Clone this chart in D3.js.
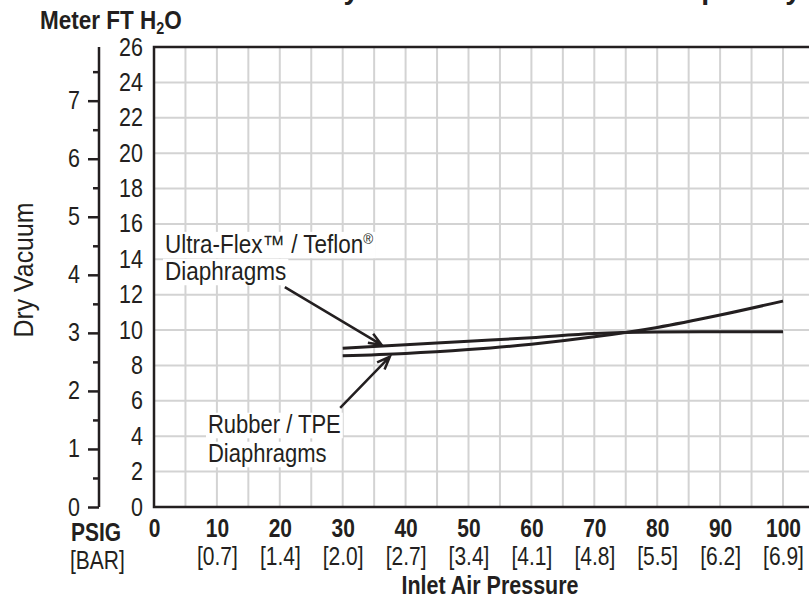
<!DOCTYPE html>
<html>
<head>
<meta charset="utf-8">
<script src="https://cdn.jsdelivr.net/npm/d3@7"></script>
<style>
  html, body { margin: 0; padding: 0; background: #fff; }
  svg { display: block; }
  text { font-family: "Liberation Sans", Arial, sans-serif; fill: #231f20; }
</style>
</head>
<body>
<svg id="chart" width="809" height="616"></svg>
<script>
// ---- data ----
const psi = [30, 40, 50, 60, 70, 80, 90, 100];
const ultraFlex = [8.97, 9.17, 9.37, 9.57, 9.80, 9.89, 9.91, 9.91];
const rubberTPE = [8.55, 8.68, 8.90, 9.20, 9.62, 10.15, 10.85, 11.64];
const psiTicks = [0, 10, 20, 30, 40, 50, 60, 70, 80, 90, 100];
const barLabels = ["", "[0.7]", "[1.4]", "[2.0]", "[2.7]", "[3.4]", "[4.1]", "[4.8]", "[5.5]", "[6.2]", "[6.9]"];
const ftTicks = [0, 2, 4, 6, 8, 10, 12, 14, 16, 18, 20, 22, 24, 26];
const meterTicks = [0, 1, 2, 3, 4, 5, 6, 7];
const meterMinorTicks = [0.5, 1.5, 2.5, 3.5, 4.5, 5.5, 6.5, 7.5];

const ink = "#231f20";
const K = 0.86; // horizontal condensing (Helvetica Condensed look)
const svg = d3.select("#chart");

function cond(sel, k) {
  k = k || K;
  sel.each(function () {
    const t = d3.select(this);
    const x0 = +t.attr("x") || 0;
    t.attr("x", x0 / k).attr("transform", `scale(${k},1)`);
  });
  return sel;
}

const x = d3.scaleLinear().domain([0, 100]).range([154, 783]);
const y = d3.scaleLinear().domain([0, 26]).range([507, 47]);
const yM = d3.scaleLinear().domain([0, 26 / 3.28084]).range([507, 47]);

// title (cropped at top, as in the reference)
cond(svg.append("text").attr("x", 801).attr("y", -1).attr("text-anchor", "end")
  .style("font-weight", "bold").style("font-size", "30px")
  .text("Maximum Dry Vacuum / Suction Lift Capability"), 0.95);

// grid
const g = svg.append("g");
g.selectAll(".vg").data(d3.range(5, 110, 5)).join("line")
  .attr("x1", d => x(d)).attr("x2", d => x(d)).attr("y1", y(26)).attr("y2", y(0))
  .attr("stroke", "#d3d3d3").attr("stroke-width", 2);
g.selectAll(".hg").data(d3.range(2, 26, 2)).join("line")
  .attr("x1", x(0)).attr("x2", 809).attr("y1", d => y(d)).attr("y2", d => y(d))
  .attr("stroke", "#d3d3d3").attr("stroke-width", 2);

// frame
svg.append("path")
  .attr("d", `M809,${y(26)}H${x(0)}V${y(0)}H809`)
  .attr("fill", "none").attr("stroke", ink).attr("stroke-width", 2.5);

// ft axis labels
const ftAxis = svg.append("g").attr("transform", `translate(${x(0)},0)`)
  .call(d3.axisLeft(y).tickValues(ftTicks).tickSize(0).tickPadding(11));
ftAxis.select(".domain").remove();
ftAxis.selectAll("text").style("font-size", "25px").attr("fill", ink).style("font-family", null);
cond(ftAxis.selectAll("text"));

// meter axis
const mAxis = svg.append("g").attr("transform", "translate(99,0)")
  .call(d3.axisLeft(yM).tickValues(meterTicks).tickSize(11).tickPadding(8));
mAxis.select(".domain").attr("d", `M0,${y(26)}V${y(0)}`).attr("stroke", ink).attr("stroke-width", 2.5);
mAxis.selectAll(".tick line").attr("stroke", ink).attr("stroke-width", 2.5);
mAxis.selectAll("text").style("font-size", "25px").attr("fill", ink);
cond(mAxis.selectAll("text"));
const mMinor = svg.append("g").attr("transform", "translate(99,0)")
  .call(d3.axisLeft(yM).tickValues(meterMinorTicks).tickSize(6).tickFormat(""));
mMinor.select(".domain").remove();
mMinor.selectAll(".tick line").attr("stroke", ink).attr("stroke-width", 2.5);

// x axis labels
const xAxis = svg.append("g").attr("transform", `translate(0,${y(0)})`)
  .call(d3.axisBottom(x).tickValues(psiTicks).tickSize(0).tickPadding(12));
xAxis.select(".domain").remove();
xAxis.selectAll("text").style("font-size", "25px").style("font-weight", "bold").attr("fill", ink);
cond(xAxis.selectAll("text"), 0.84);
const barAxis = svg.append("g").attr("transform", `translate(0,${y(0)})`)
  .call(d3.axisBottom(x).tickValues(psiTicks).tickSize(0).tickPadding(40)
    .tickFormat((d, i) => barLabels[i]));
barAxis.select(".domain").remove();
barAxis.selectAll("text").style("font-size", "25px").attr("fill", ink);
cond(barAxis.selectAll("text"), 0.84);

cond(svg.append("text").attr("x", 71).attr("y", 541).style("font-size", "25px").style("font-weight", "bold").text("PSIG"), 0.84);
cond(svg.append("text").attr("x", 70).attr("y", 569).style("font-size", "25px").text("[BAR]"), 0.84);
cond(svg.append("text").attr("x", 490).attr("y", 594).attr("text-anchor", "middle")
  .style("font-size", "25px").style("font-weight", "bold").text("Inlet Air Pressure"), 0.86);

// axis titles
const yt = svg.append("text").attr("x", 40).attr("y", 29).style("font-size", "25px").style("font-weight", "bold");
yt.append("tspan").text("Meter FT H");
yt.append("tspan").attr("dy", 5).style("font-size", "16px").text("2");
yt.append("tspan").attr("dy", -5).text("O");
cond(yt, 0.9);
svg.append("text").attr("transform", "translate(33,270) rotate(-90) scale(0.92,1)").attr("text-anchor", "middle")
  .style("font-size", "27px").text("Dry Vacuum");

// curves
const line = d3.line().x(d => x(d[0])).y(d => y(d[1])).curve(d3.curveMonotoneX);
svg.append("path").datum(psi.map((p, i) => [p, ultraFlex[i]])).attr("d", line)
  .attr("fill", "none").attr("stroke", ink).attr("stroke-width", 3);
svg.append("path").datum(psi.map((p, i) => [p, rubberTPE[i]])).attr("d", line)
  .attr("fill", "none").attr("stroke", ink).attr("stroke-width", 3);

// annotations
function label(lines, lx, ly, lh, k) {
  const grp = svg.append("g");
  lines.forEach((t, i) => {
    const tx = grp.append("text").attr("x", lx).attr("y", ly + i * lh).style("font-size", "25px");
    if (t.sup) {
      tx.append("tspan").text(t.text);
      tx.append("tspan").attr("dy", -9).style("font-size", "15px").text(t.sup);
    } else tx.text(t.text);
    cond(tx, k);
    const bb = tx.node().getBBox();
    grp.insert("rect", "text").attr("x", bb.x * k - 2).attr("y", bb.y + 2)
      .attr("width", bb.width * k + 4).attr("height", bb.height - 2).attr("fill", "#fff");
  });
}
label([{text: "Ultra-Flex™ / Teflon", sup: "®"}, {text: "Diaphragms"}], 165, 253, 27, 0.9);
label([{text: "Rubber / TPE"}, {text: "Diaphragms"}], 208, 433, 29, 0.88);

function arrow(x0, y0, x1, y1) {
  const a = Math.atan2(y1 - y0, x1 - x0), L = 14, s = 0.38;
  svg.append("path")
    .attr("d", `M${x0},${y0}L${x1},${y1}M${x1 - L * Math.cos(a - s)},${y1 - L * Math.sin(a - s)}L${x1},${y1}L${x1 - L * Math.cos(a + s)},${y1 - L * Math.sin(a + s)}`)
    .attr("fill", "none").attr("stroke", ink).attr("stroke-width", 2.5);
}
arrow(x(20.8), y(12.43), x(36.2), y(9.16));
arrow(x(29.6), y(5.6), x(37.5), y(8.5));
</script>
</body>
</html>
